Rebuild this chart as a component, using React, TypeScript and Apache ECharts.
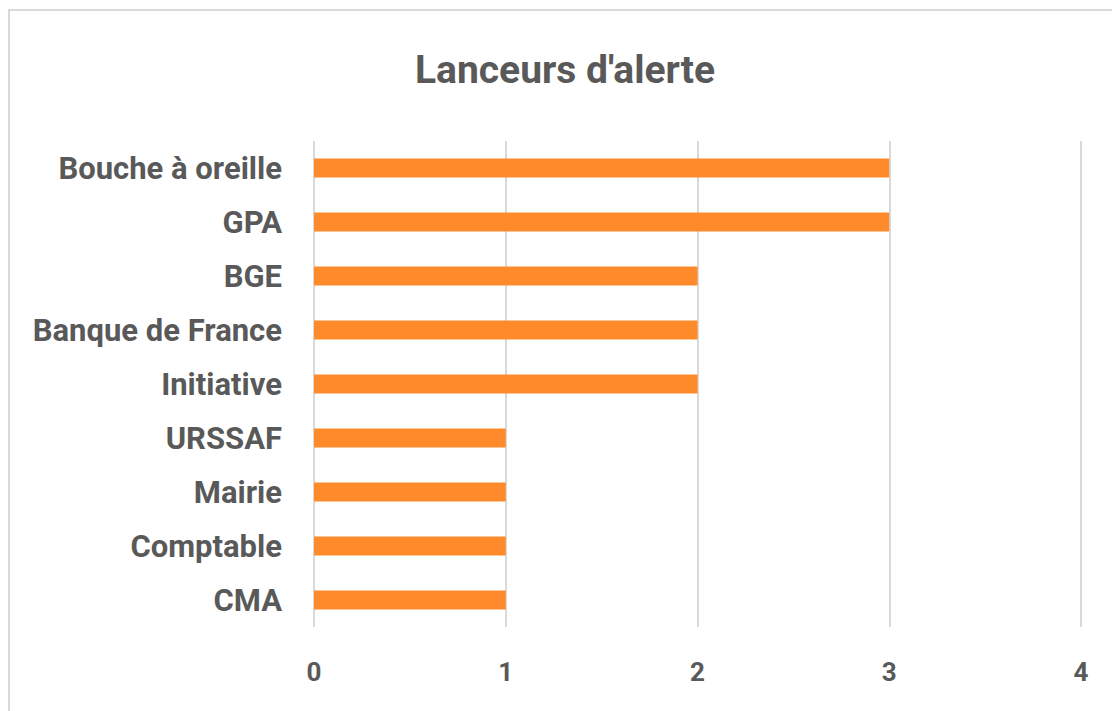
import React, { useEffect, useRef } from "react";
import * as echarts from "echarts";

const categories = ["CMA", "Comptable", "Mairie", "URSSAF", "Initiative", "Banque de France", "BGE", "GPA", "Bouche à oreille"];
const values = [1, 1, 1, 1, 2, 2, 2, 3, 3];
const titleText = "Lanceurs d'alerte";

const FONT = "'Roboto', sans-serif";

export default function App() {
  const ref = useRef<HTMLDivElement>(null);
  useEffect(() => {
    if (!ref.current) return;
    const chart = echarts.init(ref.current, null, { renderer: "svg" });
    chart.setOption({
      animation: false,
      backgroundColor: "#ffffff",
      title: {
        text: titleText,
        left: 560,
        textAlign: "center",
        top: 45,
        textStyle: { fontFamily: FONT, fontWeight: "bold", fontSize: 39, color: "#595959" },
      },
      graphic: [
        {
          type: "rect",
          shape: { x: 9, y: 10, width: 1200, height: 800 },
          style: { fill: "none", stroke: "#d9d9d9", lineWidth: 2 },
          silent: true,
        },
      ],
      grid: { left: 314, right: 31, top: 141, bottom: 84, containLabel: false },
      xAxis: {
        type: "value",
        min: 0,
        max: 4,
        interval: 1,
        axisLine: { show: false },
        axisTick: { show: false },
        splitLine: { show: true, lineStyle: { color: "#d9d9d9", width: 2 } },
        axisLabel: { fontFamily: FONT, fontWeight: "bold", fontSize: 26, color: "#595959", margin: 32 },
      },
      yAxis: {
        type: "category",
        data: categories,
        axisLine: { show: false },
        axisTick: { show: false },
        axisLabel: { fontFamily: FONT, fontWeight: "bold", fontSize: 31, color: "#595959", margin: 32 },
      },
      series: [
        {
          type: "bar",
          data: values,
          barWidth: 19,
          itemStyle: { color: "#FF8A2B" },
        },
      ],
    });
    return () => chart.dispose();
  }, []);
  return <div ref={ref} style={{ position: "absolute", left: 0, top: 0, width: 1112, height: 711 }} />;
}
